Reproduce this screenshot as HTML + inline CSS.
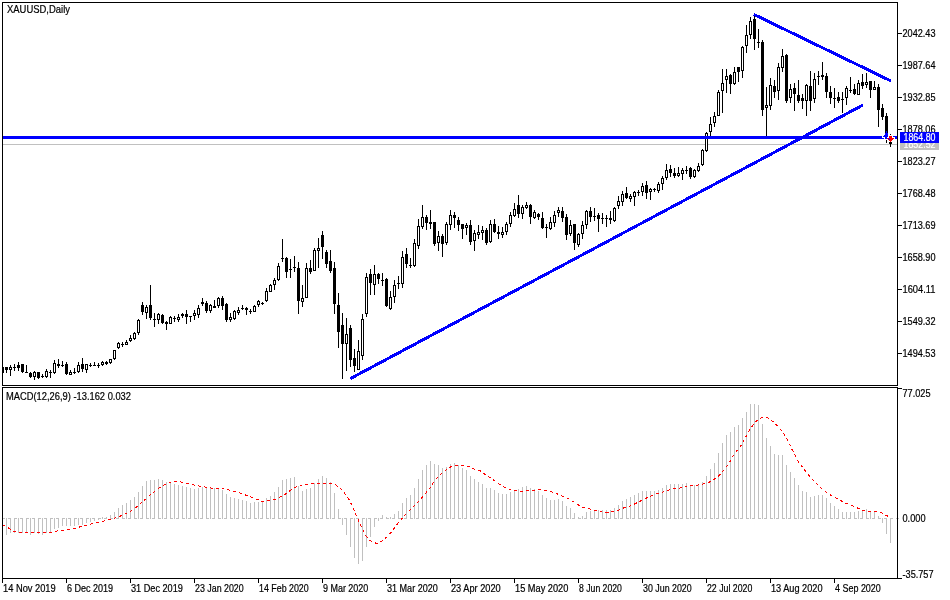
<!DOCTYPE html>
<html><head><meta charset="utf-8"><title>XAUUSD,Daily</title>
<style>html,body{margin:0;padding:0;background:#fff;overflow:hidden}svg{will-change:transform}svg{display:block}text{stroke:#000;stroke-width:0.2px;font-family:"Liberation Sans",Arial,sans-serif;font-size:10px;fill:#000}</style></head><body>
<svg width="950" height="600" viewBox="0 0 950 600">
<rect width="950" height="600" fill="#fff"/>
<g shape-rendering="crispEdges">
<rect x="3" y="144" width="894" height="1" fill="#c0c0c0"/>
<g fill="#c0c0c0">
<rect x="6" y="518" width="1" height="17"/>
<rect x="10" y="518" width="1" height="15"/>
<rect x="14" y="518" width="1" height="15"/>
<rect x="18" y="518" width="1" height="15"/>
<rect x="22" y="518" width="1" height="15"/>
<rect x="26" y="518" width="1" height="15"/>
<rect x="30" y="518" width="1" height="17"/>
<rect x="34" y="518" width="1" height="15"/>
<rect x="38" y="518" width="1" height="16"/>
<rect x="42" y="518" width="1" height="17"/>
<rect x="46" y="518" width="1" height="15"/>
<rect x="50" y="518" width="1" height="15"/>
<rect x="54" y="518" width="1" height="11"/>
<rect x="58" y="518" width="1" height="10"/>
<rect x="62" y="518" width="1" height="8"/>
<rect x="66" y="518" width="1" height="8"/>
<rect x="70" y="518" width="1" height="8"/>
<rect x="74" y="518" width="1" height="8"/>
<rect x="78" y="518" width="1" height="7"/>
<rect x="82" y="518" width="1" height="7"/>
<rect x="86" y="518" width="1" height="5"/>
<rect x="90" y="518" width="1" height="4"/>
<rect x="94" y="518" width="1" height="3"/>
<rect x="98" y="518" width="1" height="2"/>
<rect x="102" y="517" width="1" height="2"/>
<rect x="106" y="517" width="1" height="2"/>
<rect x="110" y="515" width="1" height="4"/>
<rect x="114" y="512" width="1" height="7"/>
<rect x="118" y="508" width="1" height="11"/>
<rect x="122" y="505" width="1" height="14"/>
<rect x="126" y="503" width="1" height="16"/>
<rect x="130" y="500" width="1" height="19"/>
<rect x="134" y="497" width="1" height="22"/>
<rect x="138" y="492" width="1" height="27"/>
<rect x="142" y="486" width="1" height="33"/>
<rect x="146" y="481" width="1" height="38"/>
<rect x="150" y="480" width="1" height="39"/>
<rect x="154" y="480" width="1" height="39"/>
<rect x="158" y="479" width="1" height="40"/>
<rect x="162" y="480" width="1" height="39"/>
<rect x="166" y="482" width="1" height="37"/>
<rect x="170" y="483" width="1" height="36"/>
<rect x="174" y="484" width="1" height="35"/>
<rect x="178" y="485" width="1" height="34"/>
<rect x="182" y="486" width="1" height="33"/>
<rect x="186" y="487" width="1" height="32"/>
<rect x="190" y="488" width="1" height="31"/>
<rect x="194" y="489" width="1" height="30"/>
<rect x="198" y="488" width="1" height="31"/>
<rect x="202" y="487" width="1" height="32"/>
<rect x="206" y="487" width="1" height="32"/>
<rect x="210" y="488" width="1" height="31"/>
<rect x="214" y="488" width="1" height="31"/>
<rect x="218" y="489" width="1" height="30"/>
<rect x="222" y="490" width="1" height="29"/>
<rect x="226" y="494" width="1" height="25"/>
<rect x="230" y="497" width="1" height="22"/>
<rect x="234" y="498" width="1" height="21"/>
<rect x="238" y="499" width="1" height="20"/>
<rect x="242" y="500" width="1" height="19"/>
<rect x="246" y="501" width="1" height="18"/>
<rect x="250" y="503" width="1" height="16"/>
<rect x="254" y="502" width="1" height="17"/>
<rect x="258" y="502" width="1" height="17"/>
<rect x="262" y="501" width="1" height="18"/>
<rect x="266" y="498" width="1" height="21"/>
<rect x="270" y="496" width="1" height="23"/>
<rect x="274" y="492" width="1" height="27"/>
<rect x="278" y="487" width="1" height="32"/>
<rect x="282" y="480" width="1" height="39"/>
<rect x="286" y="479" width="1" height="40"/>
<rect x="290" y="478" width="1" height="41"/>
<rect x="294" y="477" width="1" height="42"/>
<rect x="298" y="486" width="1" height="33"/>
<rect x="302" y="491" width="1" height="28"/>
<rect x="306" y="489" width="1" height="30"/>
<rect x="310" y="488" width="1" height="31"/>
<rect x="314" y="483" width="1" height="36"/>
<rect x="318" y="479" width="1" height="40"/>
<rect x="322" y="476" width="1" height="43"/>
<rect x="326" y="478" width="1" height="41"/>
<rect x="330" y="482" width="1" height="37"/>
<rect x="334" y="493" width="1" height="26"/>
<rect x="338" y="509" width="1" height="10"/>
<rect x="342" y="518" width="1" height="7"/>
<rect x="346" y="518" width="1" height="17"/>
<rect x="350" y="518" width="1" height="29"/>
<rect x="354" y="518" width="1" height="40"/>
<rect x="358" y="518" width="1" height="46"/>
<rect x="362" y="518" width="1" height="43"/>
<rect x="366" y="518" width="1" height="29"/>
<rect x="370" y="518" width="1" height="19"/>
<rect x="374" y="518" width="1" height="9"/>
<rect x="378" y="518" width="1" height="3"/>
<rect x="382" y="515" width="1" height="4"/>
<rect x="386" y="517" width="1" height="2"/>
<rect x="390" y="517" width="1" height="2"/>
<rect x="394" y="514" width="1" height="5"/>
<rect x="398" y="511" width="1" height="8"/>
<rect x="402" y="503" width="1" height="16"/>
<rect x="406" y="498" width="1" height="21"/>
<rect x="410" y="495" width="1" height="24"/>
<rect x="414" y="488" width="1" height="31"/>
<rect x="418" y="479" width="1" height="40"/>
<rect x="422" y="470" width="1" height="49"/>
<rect x="426" y="465" width="1" height="54"/>
<rect x="430" y="461" width="1" height="58"/>
<rect x="434" y="464" width="1" height="55"/>
<rect x="438" y="465" width="1" height="54"/>
<rect x="442" y="468" width="1" height="51"/>
<rect x="446" y="467" width="1" height="52"/>
<rect x="450" y="464" width="1" height="55"/>
<rect x="454" y="463" width="1" height="56"/>
<rect x="458" y="465" width="1" height="54"/>
<rect x="462" y="468" width="1" height="51"/>
<rect x="466" y="470" width="1" height="49"/>
<rect x="470" y="476" width="1" height="43"/>
<rect x="474" y="479" width="1" height="40"/>
<rect x="478" y="482" width="1" height="37"/>
<rect x="482" y="484" width="1" height="35"/>
<rect x="486" y="488" width="1" height="31"/>
<rect x="490" y="488" width="1" height="31"/>
<rect x="494" y="490" width="1" height="29"/>
<rect x="498" y="493" width="1" height="26"/>
<rect x="502" y="494" width="1" height="25"/>
<rect x="506" y="494" width="1" height="25"/>
<rect x="510" y="492" width="1" height="27"/>
<rect x="514" y="490" width="1" height="29"/>
<rect x="518" y="489" width="1" height="30"/>
<rect x="522" y="487" width="1" height="32"/>
<rect x="526" y="486" width="1" height="33"/>
<rect x="530" y="488" width="1" height="31"/>
<rect x="534" y="489" width="1" height="30"/>
<rect x="538" y="491" width="1" height="28"/>
<rect x="542" y="495" width="1" height="24"/>
<rect x="546" y="498" width="1" height="21"/>
<rect x="550" y="500" width="1" height="19"/>
<rect x="554" y="500" width="1" height="19"/>
<rect x="558" y="499" width="1" height="20"/>
<rect x="562" y="501" width="1" height="18"/>
<rect x="566" y="506" width="1" height="13"/>
<rect x="570" y="508" width="1" height="11"/>
<rect x="574" y="513" width="1" height="6"/>
<rect x="578" y="517" width="1" height="2"/>
<rect x="582" y="516" width="1" height="3"/>
<rect x="586" y="512" width="1" height="7"/>
<rect x="590" y="511" width="1" height="8"/>
<rect x="594" y="510" width="1" height="9"/>
<rect x="598" y="510" width="1" height="9"/>
<rect x="602" y="510" width="1" height="9"/>
<rect x="606" y="510" width="1" height="9"/>
<rect x="610" y="510" width="1" height="9"/>
<rect x="614" y="508" width="1" height="11"/>
<rect x="618" y="505" width="1" height="14"/>
<rect x="622" y="501" width="1" height="18"/>
<rect x="626" y="499" width="1" height="20"/>
<rect x="630" y="497" width="1" height="22"/>
<rect x="634" y="495" width="1" height="24"/>
<rect x="638" y="493" width="1" height="26"/>
<rect x="642" y="491" width="1" height="28"/>
<rect x="646" y="491" width="1" height="28"/>
<rect x="650" y="491" width="1" height="28"/>
<rect x="654" y="491" width="1" height="28"/>
<rect x="658" y="490" width="1" height="29"/>
<rect x="662" y="488" width="1" height="31"/>
<rect x="666" y="485" width="1" height="34"/>
<rect x="670" y="484" width="1" height="35"/>
<rect x="674" y="484" width="1" height="35"/>
<rect x="678" y="484" width="1" height="35"/>
<rect x="682" y="484" width="1" height="35"/>
<rect x="686" y="483" width="1" height="36"/>
<rect x="690" y="485" width="1" height="34"/>
<rect x="694" y="485" width="1" height="34"/>
<rect x="698" y="485" width="1" height="34"/>
<rect x="702" y="482" width="1" height="37"/>
<rect x="706" y="476" width="1" height="43"/>
<rect x="710" y="469" width="1" height="50"/>
<rect x="714" y="463" width="1" height="56"/>
<rect x="718" y="453" width="1" height="66"/>
<rect x="722" y="443" width="1" height="76"/>
<rect x="726" y="435" width="1" height="84"/>
<rect x="730" y="432" width="1" height="87"/>
<rect x="734" y="427" width="1" height="92"/>
<rect x="738" y="425" width="1" height="94"/>
<rect x="742" y="418" width="1" height="101"/>
<rect x="746" y="412" width="1" height="107"/>
<rect x="750" y="404" width="1" height="115"/>
<rect x="754" y="404" width="1" height="115"/>
<rect x="758" y="405" width="1" height="114"/>
<rect x="762" y="424" width="1" height="95"/>
<rect x="766" y="438" width="1" height="81"/>
<rect x="770" y="446" width="1" height="73"/>
<rect x="774" y="454" width="1" height="65"/>
<rect x="778" y="455" width="1" height="64"/>
<rect x="782" y="455" width="1" height="64"/>
<rect x="786" y="465" width="1" height="54"/>
<rect x="790" y="472" width="1" height="47"/>
<rect x="794" y="478" width="1" height="41"/>
<rect x="798" y="485" width="1" height="34"/>
<rect x="802" y="491" width="1" height="28"/>
<rect x="806" y="492" width="1" height="27"/>
<rect x="810" y="497" width="1" height="22"/>
<rect x="814" y="496" width="1" height="23"/>
<rect x="818" y="495" width="1" height="24"/>
<rect x="822" y="495" width="1" height="24"/>
<rect x="826" y="498" width="1" height="21"/>
<rect x="830" y="503" width="1" height="16"/>
<rect x="834" y="506" width="1" height="13"/>
<rect x="838" y="509" width="1" height="10"/>
<rect x="842" y="512" width="1" height="7"/>
<rect x="846" y="512" width="1" height="7"/>
<rect x="850" y="512" width="1" height="7"/>
<rect x="854" y="512" width="1" height="7"/>
<rect x="858" y="511" width="1" height="8"/>
<rect x="862" y="510" width="1" height="9"/>
<rect x="866" y="509" width="1" height="10"/>
<rect x="870" y="511" width="1" height="8"/>
<rect x="874" y="512" width="1" height="7"/>
<rect x="878" y="516" width="1" height="3"/>
<rect x="882" y="518" width="1" height="5"/>
<rect x="886" y="518" width="1" height="16"/>
<rect x="890" y="518" width="1" height="25"/>
<rect x="2" y="518" width="3" height="1"/>
<rect x="8" y="518" width="3" height="1"/>
<rect x="14" y="518" width="3" height="1"/>
<rect x="20" y="518" width="3" height="1"/>
<rect x="26" y="518" width="3" height="1"/>
<rect x="32" y="518" width="3" height="1"/>
<rect x="38" y="518" width="3" height="1"/>
<rect x="44" y="518" width="3" height="1"/>
<rect x="50" y="518" width="3" height="1"/>
<rect x="56" y="518" width="3" height="1"/>
<rect x="62" y="518" width="3" height="1"/>
<rect x="68" y="518" width="3" height="1"/>
<rect x="74" y="518" width="3" height="1"/>
<rect x="80" y="518" width="3" height="1"/>
<rect x="86" y="518" width="3" height="1"/>
<rect x="92" y="518" width="3" height="1"/>
<rect x="98" y="518" width="3" height="1"/>
<rect x="104" y="518" width="3" height="1"/>
<rect x="110" y="518" width="3" height="1"/>
<rect x="116" y="518" width="3" height="1"/>
<rect x="122" y="518" width="3" height="1"/>
<rect x="128" y="518" width="3" height="1"/>
<rect x="134" y="518" width="3" height="1"/>
<rect x="140" y="518" width="3" height="1"/>
<rect x="146" y="518" width="3" height="1"/>
<rect x="152" y="518" width="3" height="1"/>
<rect x="158" y="518" width="3" height="1"/>
<rect x="164" y="518" width="3" height="1"/>
<rect x="170" y="518" width="3" height="1"/>
<rect x="176" y="518" width="3" height="1"/>
<rect x="182" y="518" width="3" height="1"/>
<rect x="188" y="518" width="3" height="1"/>
<rect x="194" y="518" width="3" height="1"/>
<rect x="200" y="518" width="3" height="1"/>
<rect x="206" y="518" width="3" height="1"/>
<rect x="212" y="518" width="3" height="1"/>
<rect x="218" y="518" width="3" height="1"/>
<rect x="224" y="518" width="3" height="1"/>
<rect x="230" y="518" width="3" height="1"/>
<rect x="236" y="518" width="3" height="1"/>
<rect x="242" y="518" width="3" height="1"/>
<rect x="248" y="518" width="3" height="1"/>
<rect x="254" y="518" width="3" height="1"/>
<rect x="260" y="518" width="3" height="1"/>
<rect x="266" y="518" width="3" height="1"/>
<rect x="272" y="518" width="3" height="1"/>
<rect x="278" y="518" width="3" height="1"/>
<rect x="284" y="518" width="3" height="1"/>
<rect x="290" y="518" width="3" height="1"/>
<rect x="296" y="518" width="3" height="1"/>
<rect x="302" y="518" width="3" height="1"/>
<rect x="308" y="518" width="3" height="1"/>
<rect x="314" y="518" width="3" height="1"/>
<rect x="320" y="518" width="3" height="1"/>
<rect x="326" y="518" width="3" height="1"/>
<rect x="332" y="518" width="3" height="1"/>
<rect x="338" y="518" width="3" height="1"/>
<rect x="344" y="518" width="3" height="1"/>
<rect x="350" y="518" width="3" height="1"/>
<rect x="356" y="518" width="3" height="1"/>
<rect x="362" y="518" width="3" height="1"/>
<rect x="368" y="518" width="3" height="1"/>
<rect x="374" y="518" width="3" height="1"/>
<rect x="380" y="518" width="3" height="1"/>
<rect x="386" y="518" width="3" height="1"/>
<rect x="392" y="518" width="3" height="1"/>
<rect x="398" y="518" width="3" height="1"/>
<rect x="404" y="518" width="3" height="1"/>
<rect x="410" y="518" width="3" height="1"/>
<rect x="416" y="518" width="3" height="1"/>
<rect x="422" y="518" width="3" height="1"/>
<rect x="428" y="518" width="3" height="1"/>
<rect x="434" y="518" width="3" height="1"/>
<rect x="440" y="518" width="3" height="1"/>
<rect x="446" y="518" width="3" height="1"/>
<rect x="452" y="518" width="3" height="1"/>
<rect x="458" y="518" width="3" height="1"/>
<rect x="464" y="518" width="3" height="1"/>
<rect x="470" y="518" width="3" height="1"/>
<rect x="476" y="518" width="3" height="1"/>
<rect x="482" y="518" width="3" height="1"/>
<rect x="488" y="518" width="3" height="1"/>
<rect x="494" y="518" width="3" height="1"/>
<rect x="500" y="518" width="3" height="1"/>
<rect x="506" y="518" width="3" height="1"/>
<rect x="512" y="518" width="3" height="1"/>
<rect x="518" y="518" width="3" height="1"/>
<rect x="524" y="518" width="3" height="1"/>
<rect x="530" y="518" width="3" height="1"/>
<rect x="536" y="518" width="3" height="1"/>
<rect x="542" y="518" width="3" height="1"/>
<rect x="548" y="518" width="3" height="1"/>
<rect x="554" y="518" width="3" height="1"/>
<rect x="560" y="518" width="3" height="1"/>
<rect x="566" y="518" width="3" height="1"/>
<rect x="572" y="518" width="3" height="1"/>
<rect x="578" y="518" width="3" height="1"/>
<rect x="584" y="518" width="3" height="1"/>
<rect x="590" y="518" width="3" height="1"/>
<rect x="596" y="518" width="3" height="1"/>
<rect x="602" y="518" width="3" height="1"/>
<rect x="608" y="518" width="3" height="1"/>
<rect x="614" y="518" width="3" height="1"/>
<rect x="620" y="518" width="3" height="1"/>
<rect x="626" y="518" width="3" height="1"/>
<rect x="632" y="518" width="3" height="1"/>
<rect x="638" y="518" width="3" height="1"/>
<rect x="644" y="518" width="3" height="1"/>
<rect x="650" y="518" width="3" height="1"/>
<rect x="656" y="518" width="3" height="1"/>
<rect x="662" y="518" width="3" height="1"/>
<rect x="668" y="518" width="3" height="1"/>
<rect x="674" y="518" width="3" height="1"/>
<rect x="680" y="518" width="3" height="1"/>
<rect x="686" y="518" width="3" height="1"/>
<rect x="692" y="518" width="3" height="1"/>
<rect x="698" y="518" width="3" height="1"/>
<rect x="704" y="518" width="3" height="1"/>
<rect x="710" y="518" width="3" height="1"/>
<rect x="716" y="518" width="3" height="1"/>
<rect x="722" y="518" width="3" height="1"/>
<rect x="728" y="518" width="3" height="1"/>
<rect x="734" y="518" width="3" height="1"/>
<rect x="740" y="518" width="3" height="1"/>
<rect x="746" y="518" width="3" height="1"/>
<rect x="752" y="518" width="3" height="1"/>
<rect x="758" y="518" width="3" height="1"/>
<rect x="764" y="518" width="3" height="1"/>
<rect x="770" y="518" width="3" height="1"/>
<rect x="776" y="518" width="3" height="1"/>
<rect x="782" y="518" width="3" height="1"/>
<rect x="788" y="518" width="3" height="1"/>
<rect x="794" y="518" width="3" height="1"/>
<rect x="800" y="518" width="3" height="1"/>
<rect x="806" y="518" width="3" height="1"/>
<rect x="812" y="518" width="3" height="1"/>
<rect x="818" y="518" width="3" height="1"/>
<rect x="824" y="518" width="3" height="1"/>
<rect x="830" y="518" width="3" height="1"/>
<rect x="836" y="518" width="3" height="1"/>
<rect x="842" y="518" width="3" height="1"/>
<rect x="848" y="518" width="3" height="1"/>
<rect x="854" y="518" width="3" height="1"/>
<rect x="860" y="518" width="3" height="1"/>
<rect x="866" y="518" width="3" height="1"/>
<rect x="872" y="518" width="3" height="1"/>
<rect x="878" y="518" width="3" height="1"/>
<rect x="884" y="518" width="3" height="1"/>
<rect x="890" y="518" width="3" height="1"/>
<rect x="896" y="518" width="3" height="1"/>
</g>
<g fill="#000">
<rect x="3" y="367" width="1" height="6"/>
<rect x="6" y="367" width="1" height="6"/>
<rect x="5" y="367" width="3" height="3"/>
<rect x="10" y="365" width="1" height="11"/>
<rect x="9" y="367" width="3" height="3"/>
<rect x="10" y="368" width="1" height="1" fill="#fff"/>
<rect x="14" y="364" width="1" height="7"/>
<rect x="13" y="367" width="3" height="1"/>
<rect x="18" y="362" width="1" height="9"/>
<rect x="17" y="365" width="3" height="3"/>
<rect x="22" y="364" width="1" height="9"/>
<rect x="21" y="364" width="3" height="8"/>
<rect x="26" y="365" width="1" height="7"/>
<rect x="25" y="372" width="3" height="1"/>
<rect x="30" y="372" width="1" height="6"/>
<rect x="29" y="373" width="3" height="4"/>
<rect x="34" y="371" width="1" height="9"/>
<rect x="33" y="372" width="3" height="5"/>
<rect x="34" y="373" width="1" height="3" fill="#fff"/>
<rect x="38" y="372" width="1" height="7"/>
<rect x="37" y="372" width="3" height="6"/>
<rect x="42" y="374" width="1" height="4"/>
<rect x="41" y="376" width="3" height="1"/>
<rect x="46" y="369" width="1" height="9"/>
<rect x="45" y="371" width="3" height="6"/>
<rect x="46" y="372" width="1" height="4" fill="#fff"/>
<rect x="50" y="370" width="1" height="8"/>
<rect x="49" y="372" width="3" height="1"/>
<rect x="54" y="360" width="1" height="14"/>
<rect x="53" y="363" width="3" height="10"/>
<rect x="54" y="364" width="1" height="8" fill="#fff"/>
<rect x="58" y="359" width="1" height="9"/>
<rect x="57" y="364" width="3" height="2"/>
<rect x="62" y="361" width="1" height="6"/>
<rect x="61" y="365" width="3" height="1"/>
<rect x="66" y="362" width="1" height="13"/>
<rect x="65" y="364" width="3" height="10"/>
<rect x="70" y="370" width="1" height="4"/>
<rect x="69" y="372" width="3" height="3"/>
<rect x="70" y="373" width="1" height="1" fill="#fff"/>
<rect x="74" y="368" width="1" height="6"/>
<rect x="73" y="372" width="3" height="1"/>
<rect x="78" y="362" width="1" height="11"/>
<rect x="77" y="365" width="3" height="7"/>
<rect x="78" y="366" width="1" height="5" fill="#fff"/>
<rect x="82" y="358" width="1" height="14"/>
<rect x="81" y="364" width="3" height="5"/>
<rect x="86" y="364" width="1" height="9"/>
<rect x="85" y="364" width="3" height="6"/>
<rect x="86" y="365" width="1" height="4" fill="#fff"/>
<rect x="90" y="363" width="1" height="4"/>
<rect x="89" y="365" width="3" height="1"/>
<rect x="94" y="362" width="1" height="4"/>
<rect x="93" y="365" width="3" height="1"/>
<rect x="98" y="363" width="1" height="5"/>
<rect x="97" y="365" width="3" height="1"/>
<rect x="102" y="361" width="1" height="5"/>
<rect x="101" y="362" width="3" height="3"/>
<rect x="102" y="363" width="1" height="1" fill="#fff"/>
<rect x="106" y="361" width="1" height="4"/>
<rect x="105" y="362" width="3" height="2"/>
<rect x="110" y="359" width="1" height="5"/>
<rect x="109" y="359" width="3" height="4"/>
<rect x="110" y="360" width="1" height="2" fill="#fff"/>
<rect x="114" y="350" width="1" height="10"/>
<rect x="113" y="350" width="3" height="9"/>
<rect x="114" y="351" width="1" height="7" fill="#fff"/>
<rect x="118" y="342" width="1" height="7"/>
<rect x="117" y="343" width="3" height="5"/>
<rect x="118" y="344" width="1" height="3" fill="#fff"/>
<rect x="122" y="342" width="1" height="5"/>
<rect x="121" y="344" width="3" height="1"/>
<rect x="126" y="340" width="1" height="5"/>
<rect x="125" y="342" width="3" height="3"/>
<rect x="126" y="343" width="1" height="1" fill="#fff"/>
<rect x="130" y="335" width="1" height="7"/>
<rect x="129" y="338" width="3" height="3"/>
<rect x="130" y="339" width="1" height="1" fill="#fff"/>
<rect x="134" y="332" width="1" height="8"/>
<rect x="133" y="333" width="3" height="6"/>
<rect x="134" y="334" width="1" height="4" fill="#fff"/>
<rect x="138" y="319" width="1" height="16"/>
<rect x="137" y="320" width="3" height="13"/>
<rect x="138" y="321" width="1" height="11" fill="#fff"/>
<rect x="142" y="302" width="1" height="13"/>
<rect x="141" y="305" width="3" height="7"/>
<rect x="146" y="305" width="1" height="14"/>
<rect x="145" y="307" width="3" height="6"/>
<rect x="146" y="308" width="1" height="4" fill="#fff"/>
<rect x="150" y="285" width="1" height="35"/>
<rect x="149" y="305" width="3" height="13"/>
<rect x="154" y="313" width="1" height="14"/>
<rect x="153" y="319" width="3" height="1"/>
<rect x="158" y="313" width="1" height="11"/>
<rect x="157" y="314" width="3" height="6"/>
<rect x="158" y="315" width="1" height="4" fill="#fff"/>
<rect x="162" y="314" width="1" height="10"/>
<rect x="161" y="315" width="3" height="8"/>
<rect x="166" y="321" width="1" height="9"/>
<rect x="165" y="322" width="3" height="2"/>
<rect x="170" y="316" width="1" height="8"/>
<rect x="169" y="317" width="3" height="7"/>
<rect x="170" y="318" width="1" height="5" fill="#fff"/>
<rect x="174" y="316" width="1" height="6"/>
<rect x="173" y="318" width="3" height="1"/>
<rect x="178" y="314" width="1" height="8"/>
<rect x="177" y="317" width="3" height="3"/>
<rect x="178" y="318" width="1" height="1" fill="#fff"/>
<rect x="182" y="313" width="1" height="5"/>
<rect x="181" y="314" width="3" height="2"/>
<rect x="186" y="310" width="1" height="14"/>
<rect x="185" y="314" width="3" height="3"/>
<rect x="190" y="316" width="1" height="6"/>
<rect x="189" y="316" width="3" height="1"/>
<rect x="194" y="310" width="1" height="10"/>
<rect x="193" y="313" width="3" height="3"/>
<rect x="194" y="314" width="1" height="1" fill="#fff"/>
<rect x="198" y="305" width="1" height="13"/>
<rect x="197" y="308" width="3" height="7"/>
<rect x="198" y="309" width="1" height="5" fill="#fff"/>
<rect x="202" y="298" width="1" height="8"/>
<rect x="201" y="302" width="3" height="2"/>
<rect x="206" y="301" width="1" height="12"/>
<rect x="205" y="303" width="3" height="8"/>
<rect x="210" y="304" width="1" height="9"/>
<rect x="209" y="305" width="3" height="6"/>
<rect x="210" y="306" width="1" height="4" fill="#fff"/>
<rect x="214" y="300" width="1" height="8"/>
<rect x="213" y="306" width="3" height="2"/>
<rect x="218" y="297" width="1" height="11"/>
<rect x="217" y="298" width="3" height="8"/>
<rect x="218" y="299" width="1" height="6" fill="#fff"/>
<rect x="222" y="296" width="1" height="14"/>
<rect x="221" y="298" width="3" height="8"/>
<rect x="226" y="303" width="1" height="19"/>
<rect x="225" y="304" width="3" height="16"/>
<rect x="230" y="313" width="1" height="9"/>
<rect x="229" y="317" width="3" height="3"/>
<rect x="230" y="318" width="1" height="1" fill="#fff"/>
<rect x="234" y="310" width="1" height="10"/>
<rect x="233" y="311" width="3" height="8"/>
<rect x="234" y="312" width="1" height="6" fill="#fff"/>
<rect x="238" y="307" width="1" height="8"/>
<rect x="237" y="310" width="3" height="3"/>
<rect x="238" y="311" width="1" height="1" fill="#fff"/>
<rect x="242" y="305" width="1" height="5"/>
<rect x="241" y="308" width="3" height="1"/>
<rect x="246" y="307" width="1" height="8"/>
<rect x="245" y="308" width="3" height="2"/>
<rect x="250" y="309" width="1" height="5"/>
<rect x="249" y="311" width="3" height="1"/>
<rect x="254" y="305" width="1" height="7"/>
<rect x="253" y="306" width="3" height="6"/>
<rect x="254" y="307" width="1" height="4" fill="#fff"/>
<rect x="258" y="300" width="1" height="7"/>
<rect x="257" y="301" width="3" height="4"/>
<rect x="258" y="302" width="1" height="2" fill="#fff"/>
<rect x="262" y="302" width="1" height="3"/>
<rect x="261" y="303" width="3" height="1"/>
<rect x="266" y="288" width="1" height="14"/>
<rect x="265" y="291" width="3" height="10"/>
<rect x="266" y="292" width="1" height="8" fill="#fff"/>
<rect x="270" y="284" width="1" height="8"/>
<rect x="269" y="285" width="3" height="7"/>
<rect x="270" y="286" width="1" height="5" fill="#fff"/>
<rect x="274" y="278" width="1" height="12"/>
<rect x="273" y="280" width="3" height="5"/>
<rect x="274" y="281" width="1" height="3" fill="#fff"/>
<rect x="278" y="263" width="1" height="18"/>
<rect x="277" y="266" width="3" height="14"/>
<rect x="278" y="267" width="1" height="12" fill="#fff"/>
<rect x="282" y="239" width="1" height="23"/>
<rect x="281" y="258" width="3" height="1"/>
<rect x="286" y="257" width="1" height="21"/>
<rect x="285" y="258" width="3" height="14"/>
<rect x="290" y="259" width="1" height="19"/>
<rect x="289" y="269" width="3" height="1"/>
<rect x="294" y="256" width="1" height="16"/>
<rect x="293" y="267" width="3" height="1"/>
<rect x="298" y="262" width="1" height="52"/>
<rect x="297" y="268" width="3" height="33"/>
<rect x="302" y="285" width="1" height="22"/>
<rect x="301" y="298" width="3" height="4"/>
<rect x="302" y="299" width="1" height="2" fill="#fff"/>
<rect x="306" y="263" width="1" height="35"/>
<rect x="305" y="268" width="3" height="30"/>
<rect x="306" y="269" width="1" height="28" fill="#fff"/>
<rect x="310" y="260" width="1" height="14"/>
<rect x="309" y="268" width="3" height="4"/>
<rect x="314" y="248" width="1" height="23"/>
<rect x="313" y="250" width="3" height="21"/>
<rect x="314" y="251" width="1" height="19" fill="#fff"/>
<rect x="318" y="238" width="1" height="30"/>
<rect x="317" y="248" width="3" height="3"/>
<rect x="318" y="249" width="1" height="1" fill="#fff"/>
<rect x="322" y="231" width="1" height="28"/>
<rect x="321" y="235" width="3" height="12"/>
<rect x="326" y="250" width="1" height="18"/>
<rect x="325" y="252" width="3" height="12"/>
<rect x="330" y="250" width="1" height="23"/>
<rect x="329" y="261" width="3" height="10"/>
<rect x="334" y="262" width="1" height="52"/>
<rect x="333" y="268" width="3" height="36"/>
<rect x="338" y="293" width="1" height="55"/>
<rect x="337" y="305" width="3" height="27"/>
<rect x="342" y="313" width="1" height="66"/>
<rect x="341" y="325" width="3" height="19"/>
<rect x="346" y="318" width="1" height="53"/>
<rect x="345" y="334" width="3" height="10"/>
<rect x="346" y="335" width="1" height="8" fill="#fff"/>
<rect x="350" y="325" width="1" height="42"/>
<rect x="349" y="328" width="3" height="32"/>
<rect x="354" y="349" width="1" height="23"/>
<rect x="353" y="358" width="3" height="8"/>
<rect x="358" y="340" width="1" height="30"/>
<rect x="357" y="351" width="3" height="19"/>
<rect x="358" y="352" width="1" height="17" fill="#fff"/>
<rect x="362" y="314" width="1" height="46"/>
<rect x="361" y="319" width="3" height="37"/>
<rect x="362" y="320" width="1" height="35" fill="#fff"/>
<rect x="366" y="273" width="1" height="44"/>
<rect x="365" y="277" width="3" height="37"/>
<rect x="366" y="278" width="1" height="35" fill="#fff"/>
<rect x="370" y="269" width="1" height="26"/>
<rect x="369" y="274" width="3" height="9"/>
<rect x="374" y="265" width="1" height="30"/>
<rect x="373" y="274" width="3" height="11"/>
<rect x="374" y="275" width="1" height="9" fill="#fff"/>
<rect x="378" y="273" width="1" height="11"/>
<rect x="377" y="274" width="3" height="5"/>
<rect x="382" y="273" width="1" height="13"/>
<rect x="381" y="280" width="3" height="1"/>
<rect x="386" y="278" width="1" height="29"/>
<rect x="385" y="279" width="3" height="27"/>
<rect x="390" y="291" width="1" height="19"/>
<rect x="389" y="297" width="3" height="12"/>
<rect x="390" y="298" width="1" height="10" fill="#fff"/>
<rect x="394" y="280" width="1" height="23"/>
<rect x="393" y="285" width="3" height="12"/>
<rect x="394" y="286" width="1" height="10" fill="#fff"/>
<rect x="398" y="276" width="1" height="13"/>
<rect x="397" y="283" width="3" height="1"/>
<rect x="402" y="251" width="1" height="37"/>
<rect x="401" y="257" width="3" height="27"/>
<rect x="402" y="258" width="1" height="25" fill="#fff"/>
<rect x="406" y="248" width="1" height="20"/>
<rect x="405" y="254" width="3" height="10"/>
<rect x="410" y="258" width="1" height="10"/>
<rect x="409" y="265" width="3" height="1"/>
<rect x="414" y="239" width="1" height="28"/>
<rect x="413" y="243" width="3" height="23"/>
<rect x="414" y="244" width="1" height="21" fill="#fff"/>
<rect x="418" y="219" width="1" height="30"/>
<rect x="417" y="226" width="3" height="20"/>
<rect x="418" y="227" width="1" height="18" fill="#fff"/>
<rect x="422" y="205" width="1" height="24"/>
<rect x="421" y="217" width="3" height="10"/>
<rect x="422" y="218" width="1" height="8" fill="#fff"/>
<rect x="426" y="215" width="1" height="15"/>
<rect x="425" y="217" width="3" height="6"/>
<rect x="430" y="210" width="1" height="19"/>
<rect x="429" y="222" width="3" height="2"/>
<rect x="434" y="222" width="1" height="24"/>
<rect x="433" y="222" width="3" height="22"/>
<rect x="438" y="231" width="1" height="20"/>
<rect x="437" y="236" width="3" height="7"/>
<rect x="438" y="237" width="1" height="5" fill="#fff"/>
<rect x="442" y="234" width="1" height="23"/>
<rect x="441" y="236" width="3" height="8"/>
<rect x="446" y="222" width="1" height="23"/>
<rect x="445" y="224" width="3" height="19"/>
<rect x="446" y="225" width="1" height="17" fill="#fff"/>
<rect x="450" y="210" width="1" height="20"/>
<rect x="449" y="215" width="3" height="10"/>
<rect x="450" y="216" width="1" height="8" fill="#fff"/>
<rect x="454" y="212" width="1" height="16"/>
<rect x="453" y="215" width="3" height="3"/>
<rect x="458" y="217" width="1" height="14"/>
<rect x="457" y="220" width="3" height="5"/>
<rect x="462" y="224" width="1" height="15"/>
<rect x="461" y="224" width="3" height="5"/>
<rect x="466" y="223" width="1" height="12"/>
<rect x="465" y="225" width="3" height="3"/>
<rect x="466" y="226" width="1" height="1" fill="#fff"/>
<rect x="470" y="220" width="1" height="25"/>
<rect x="469" y="225" width="3" height="17"/>
<rect x="474" y="230" width="1" height="21"/>
<rect x="473" y="233" width="3" height="8"/>
<rect x="474" y="234" width="1" height="6" fill="#fff"/>
<rect x="478" y="225" width="1" height="14"/>
<rect x="477" y="232" width="3" height="3"/>
<rect x="478" y="233" width="1" height="1" fill="#fff"/>
<rect x="482" y="226" width="1" height="14"/>
<rect x="481" y="230" width="3" height="3"/>
<rect x="482" y="231" width="1" height="1" fill="#fff"/>
<rect x="486" y="228" width="1" height="17"/>
<rect x="485" y="230" width="3" height="13"/>
<rect x="490" y="220" width="1" height="23"/>
<rect x="489" y="224" width="3" height="18"/>
<rect x="490" y="225" width="1" height="16" fill="#fff"/>
<rect x="494" y="219" width="1" height="14"/>
<rect x="493" y="224" width="3" height="8"/>
<rect x="498" y="226" width="1" height="13"/>
<rect x="497" y="232" width="3" height="2"/>
<rect x="502" y="227" width="1" height="11"/>
<rect x="501" y="232" width="3" height="3"/>
<rect x="502" y="233" width="1" height="1" fill="#fff"/>
<rect x="506" y="222" width="1" height="13"/>
<rect x="505" y="224" width="3" height="8"/>
<rect x="506" y="225" width="1" height="6" fill="#fff"/>
<rect x="510" y="212" width="1" height="15"/>
<rect x="509" y="215" width="3" height="9"/>
<rect x="510" y="216" width="1" height="7" fill="#fff"/>
<rect x="514" y="203" width="1" height="14"/>
<rect x="513" y="209" width="3" height="7"/>
<rect x="514" y="210" width="1" height="5" fill="#fff"/>
<rect x="518" y="195" width="1" height="23"/>
<rect x="517" y="205" width="3" height="9"/>
<rect x="522" y="205" width="1" height="14"/>
<rect x="521" y="207" width="3" height="7"/>
<rect x="522" y="208" width="1" height="5" fill="#fff"/>
<rect x="526" y="202" width="1" height="7"/>
<rect x="525" y="205" width="3" height="3"/>
<rect x="526" y="206" width="1" height="1" fill="#fff"/>
<rect x="530" y="204" width="1" height="20"/>
<rect x="529" y="205" width="3" height="12"/>
<rect x="534" y="210" width="1" height="9"/>
<rect x="533" y="212" width="3" height="6"/>
<rect x="534" y="213" width="1" height="4" fill="#fff"/>
<rect x="538" y="213" width="1" height="7"/>
<rect x="537" y="214" width="3" height="3"/>
<rect x="542" y="212" width="1" height="17"/>
<rect x="541" y="218" width="3" height="10"/>
<rect x="546" y="224" width="1" height="14"/>
<rect x="545" y="227" width="3" height="1"/>
<rect x="550" y="217" width="1" height="13"/>
<rect x="549" y="222" width="3" height="7"/>
<rect x="550" y="223" width="1" height="5" fill="#fff"/>
<rect x="554" y="211" width="1" height="16"/>
<rect x="553" y="215" width="3" height="8"/>
<rect x="554" y="216" width="1" height="6" fill="#fff"/>
<rect x="558" y="207" width="1" height="10"/>
<rect x="557" y="210" width="3" height="3"/>
<rect x="558" y="211" width="1" height="1" fill="#fff"/>
<rect x="562" y="207" width="1" height="15"/>
<rect x="561" y="211" width="3" height="7"/>
<rect x="566" y="214" width="1" height="26"/>
<rect x="565" y="217" width="3" height="18"/>
<rect x="570" y="220" width="1" height="16"/>
<rect x="569" y="225" width="3" height="9"/>
<rect x="570" y="226" width="1" height="7" fill="#fff"/>
<rect x="574" y="224" width="1" height="26"/>
<rect x="573" y="224" width="3" height="19"/>
<rect x="578" y="233" width="1" height="14"/>
<rect x="577" y="234" width="3" height="11"/>
<rect x="578" y="235" width="1" height="9" fill="#fff"/>
<rect x="582" y="221" width="1" height="18"/>
<rect x="581" y="225" width="3" height="9"/>
<rect x="582" y="226" width="1" height="7" fill="#fff"/>
<rect x="586" y="210" width="1" height="19"/>
<rect x="585" y="211" width="3" height="14"/>
<rect x="586" y="212" width="1" height="12" fill="#fff"/>
<rect x="590" y="207" width="1" height="15"/>
<rect x="589" y="211" width="3" height="6"/>
<rect x="594" y="208" width="1" height="13"/>
<rect x="593" y="216" width="3" height="1"/>
<rect x="598" y="213" width="1" height="19"/>
<rect x="597" y="215" width="3" height="4"/>
<rect x="602" y="213" width="1" height="11"/>
<rect x="601" y="218" width="3" height="1"/>
<rect x="606" y="215" width="1" height="12"/>
<rect x="605" y="218" width="3" height="1"/>
<rect x="610" y="211" width="1" height="13"/>
<rect x="609" y="218" width="3" height="2"/>
<rect x="614" y="207" width="1" height="15"/>
<rect x="613" y="208" width="3" height="13"/>
<rect x="614" y="209" width="1" height="11" fill="#fff"/>
<rect x="618" y="196" width="1" height="13"/>
<rect x="617" y="201" width="3" height="5"/>
<rect x="618" y="202" width="1" height="3" fill="#fff"/>
<rect x="622" y="191" width="1" height="15"/>
<rect x="621" y="194" width="3" height="8"/>
<rect x="622" y="195" width="1" height="6" fill="#fff"/>
<rect x="626" y="187" width="1" height="12"/>
<rect x="625" y="193" width="3" height="5"/>
<rect x="630" y="194" width="1" height="8"/>
<rect x="629" y="196" width="3" height="3"/>
<rect x="630" y="197" width="1" height="1" fill="#fff"/>
<rect x="634" y="191" width="1" height="15"/>
<rect x="633" y="192" width="3" height="5"/>
<rect x="634" y="193" width="1" height="3" fill="#fff"/>
<rect x="638" y="190" width="1" height="6"/>
<rect x="637" y="192" width="3" height="1"/>
<rect x="642" y="183" width="1" height="13"/>
<rect x="641" y="186" width="3" height="6"/>
<rect x="642" y="187" width="1" height="4" fill="#fff"/>
<rect x="646" y="181" width="1" height="18"/>
<rect x="645" y="185" width="3" height="8"/>
<rect x="650" y="188" width="1" height="12"/>
<rect x="649" y="189" width="3" height="3"/>
<rect x="650" y="190" width="1" height="1" fill="#fff"/>
<rect x="654" y="188" width="1" height="4"/>
<rect x="653" y="189" width="3" height="1"/>
<rect x="658" y="182" width="1" height="11"/>
<rect x="657" y="184" width="3" height="7"/>
<rect x="658" y="185" width="1" height="5" fill="#fff"/>
<rect x="662" y="176" width="1" height="14"/>
<rect x="661" y="178" width="3" height="6"/>
<rect x="662" y="179" width="1" height="4" fill="#fff"/>
<rect x="666" y="164" width="1" height="16"/>
<rect x="665" y="170" width="3" height="8"/>
<rect x="666" y="171" width="1" height="6" fill="#fff"/>
<rect x="670" y="165" width="1" height="12"/>
<rect x="669" y="169" width="3" height="4"/>
<rect x="674" y="168" width="1" height="10"/>
<rect x="673" y="173" width="3" height="3"/>
<rect x="678" y="167" width="1" height="10"/>
<rect x="677" y="173" width="3" height="3"/>
<rect x="678" y="174" width="1" height="1" fill="#fff"/>
<rect x="682" y="168" width="1" height="12"/>
<rect x="681" y="170" width="3" height="4"/>
<rect x="682" y="171" width="1" height="2" fill="#fff"/>
<rect x="686" y="166" width="1" height="8"/>
<rect x="685" y="170" width="3" height="1"/>
<rect x="690" y="167" width="1" height="12"/>
<rect x="689" y="168" width="3" height="9"/>
<rect x="694" y="169" width="1" height="9"/>
<rect x="693" y="170" width="3" height="7"/>
<rect x="694" y="171" width="1" height="5" fill="#fff"/>
<rect x="698" y="163" width="1" height="9"/>
<rect x="697" y="166" width="3" height="5"/>
<rect x="698" y="167" width="1" height="3" fill="#fff"/>
<rect x="702" y="149" width="1" height="17"/>
<rect x="701" y="150" width="3" height="15"/>
<rect x="702" y="151" width="1" height="13" fill="#fff"/>
<rect x="706" y="132" width="1" height="20"/>
<rect x="705" y="133" width="3" height="18"/>
<rect x="706" y="134" width="1" height="16" fill="#fff"/>
<rect x="710" y="117" width="1" height="19"/>
<rect x="709" y="124" width="3" height="8"/>
<rect x="710" y="125" width="1" height="6" fill="#fff"/>
<rect x="714" y="112" width="1" height="15"/>
<rect x="713" y="116" width="3" height="7"/>
<rect x="714" y="117" width="1" height="5" fill="#fff"/>
<rect x="718" y="90" width="1" height="26"/>
<rect x="717" y="92" width="3" height="24"/>
<rect x="718" y="93" width="1" height="22" fill="#fff"/>
<rect x="722" y="69" width="1" height="44"/>
<rect x="721" y="83" width="3" height="8"/>
<rect x="722" y="84" width="1" height="6" fill="#fff"/>
<rect x="726" y="69" width="1" height="24"/>
<rect x="725" y="76" width="3" height="4"/>
<rect x="726" y="77" width="1" height="2" fill="#fff"/>
<rect x="730" y="74" width="1" height="20"/>
<rect x="729" y="75" width="3" height="9"/>
<rect x="734" y="67" width="1" height="18"/>
<rect x="733" y="72" width="3" height="12"/>
<rect x="734" y="73" width="1" height="10" fill="#fff"/>
<rect x="738" y="67" width="1" height="15"/>
<rect x="737" y="67" width="3" height="5"/>
<rect x="742" y="46" width="1" height="32"/>
<rect x="741" y="47" width="3" height="24"/>
<rect x="742" y="48" width="1" height="22" fill="#fff"/>
<rect x="746" y="25" width="1" height="28"/>
<rect x="745" y="35" width="3" height="11"/>
<rect x="746" y="36" width="1" height="9" fill="#fff"/>
<rect x="750" y="17" width="1" height="22"/>
<rect x="749" y="21" width="3" height="14"/>
<rect x="750" y="22" width="1" height="12" fill="#fff"/>
<rect x="754" y="16" width="1" height="34"/>
<rect x="753" y="19" width="3" height="20"/>
<rect x="758" y="29" width="1" height="19"/>
<rect x="757" y="42" width="3" height="1"/>
<rect x="762" y="40" width="1" height="76"/>
<rect x="761" y="42" width="3" height="68"/>
<rect x="766" y="87" width="1" height="49"/>
<rect x="765" y="105" width="3" height="3"/>
<rect x="766" y="106" width="1" height="1" fill="#fff"/>
<rect x="770" y="78" width="1" height="32"/>
<rect x="769" y="85" width="3" height="21"/>
<rect x="770" y="86" width="1" height="19" fill="#fff"/>
<rect x="774" y="80" width="1" height="18"/>
<rect x="773" y="86" width="3" height="6"/>
<rect x="778" y="63" width="1" height="37"/>
<rect x="777" y="67" width="3" height="24"/>
<rect x="778" y="68" width="1" height="22" fill="#fff"/>
<rect x="782" y="49" width="1" height="23"/>
<rect x="781" y="56" width="3" height="12"/>
<rect x="782" y="57" width="1" height="10" fill="#fff"/>
<rect x="786" y="54" width="1" height="49"/>
<rect x="785" y="55" width="3" height="46"/>
<rect x="790" y="84" width="1" height="19"/>
<rect x="789" y="89" width="3" height="9"/>
<rect x="790" y="90" width="1" height="7" fill="#fff"/>
<rect x="794" y="83" width="1" height="28"/>
<rect x="793" y="88" width="3" height="6"/>
<rect x="798" y="80" width="1" height="23"/>
<rect x="797" y="95" width="3" height="6"/>
<rect x="802" y="94" width="1" height="15"/>
<rect x="801" y="98" width="3" height="3"/>
<rect x="806" y="84" width="1" height="32"/>
<rect x="805" y="85" width="3" height="16"/>
<rect x="806" y="86" width="1" height="14" fill="#fff"/>
<rect x="810" y="71" width="1" height="40"/>
<rect x="809" y="86" width="3" height="15"/>
<rect x="814" y="73" width="1" height="30"/>
<rect x="813" y="79" width="3" height="20"/>
<rect x="814" y="80" width="1" height="18" fill="#fff"/>
<rect x="818" y="71" width="1" height="14"/>
<rect x="817" y="76" width="3" height="1"/>
<rect x="822" y="62" width="1" height="18"/>
<rect x="821" y="75" width="3" height="2"/>
<rect x="826" y="73" width="1" height="25"/>
<rect x="825" y="76" width="3" height="16"/>
<rect x="830" y="86" width="1" height="18"/>
<rect x="829" y="92" width="3" height="6"/>
<rect x="834" y="88" width="1" height="20"/>
<rect x="833" y="98" width="3" height="1"/>
<rect x="838" y="92" width="1" height="11"/>
<rect x="837" y="97" width="3" height="4"/>
<rect x="842" y="92" width="1" height="21"/>
<rect x="841" y="99" width="3" height="1"/>
<rect x="846" y="86" width="1" height="19"/>
<rect x="845" y="88" width="3" height="10"/>
<rect x="846" y="89" width="1" height="8" fill="#fff"/>
<rect x="850" y="77" width="1" height="16"/>
<rect x="849" y="90" width="3" height="1"/>
<rect x="854" y="84" width="1" height="11"/>
<rect x="853" y="89" width="3" height="5"/>
<rect x="858" y="80" width="1" height="15"/>
<rect x="857" y="83" width="3" height="12"/>
<rect x="858" y="84" width="1" height="10" fill="#fff"/>
<rect x="862" y="74" width="1" height="15"/>
<rect x="861" y="82" width="3" height="4"/>
<rect x="866" y="73" width="1" height="15"/>
<rect x="865" y="82" width="3" height="3"/>
<rect x="866" y="83" width="1" height="1" fill="#fff"/>
<rect x="870" y="81" width="1" height="17"/>
<rect x="869" y="81" width="3" height="9"/>
<rect x="874" y="81" width="1" height="9"/>
<rect x="873" y="87" width="3" height="3"/>
<rect x="874" y="88" width="1" height="1" fill="#fff"/>
<rect x="878" y="84" width="1" height="43"/>
<rect x="877" y="87" width="3" height="23"/>
<rect x="882" y="104" width="1" height="16"/>
<rect x="881" y="108" width="3" height="9"/>
<rect x="886" y="113" width="1" height="30"/>
<rect x="885" y="116" width="3" height="17"/>
<rect x="890" y="134" width="1" height="13"/>
<rect x="889" y="142" width="3" height="2"/>
</g>
</g>
<g stroke="#0000ff" stroke-width="3" shape-rendering="crispEdges" fill="none">
<line x1="3" y1="137.5" x2="897" y2="137.5"/>
<line x1="350.5" y1="378.5" x2="863" y2="105"/>
<line x1="754" y1="14.5" x2="891" y2="81"/>
</g>
<polyline points="3.0,524.8 10.0,528.9 14.0,531.3 20.0,532.4 50.0,532.4 55.0,531.3 63.0,530.3 69.0,529.5 75.0,528.3 81.0,526.6 87.0,525.0 93.0,523.4 99.0,522.2 106.0,520.4 111.0,519.0 117.7,517.4 123.6,514.5 129.5,512.0 135.4,507.8 141.3,503.0 147.2,497.7 153.6,492.1 159.8,487.4 165.7,484.2 171.6,482.3 177.5,481.5 183.7,482.3 189.6,484.2 195.5,485.4 201.4,486.4 207.8,487.4 213.7,488.4 219.6,488.4 225.5,489.2 231.4,490.4 237.8,492.4 243.5,494.3 249.6,496.5 255.5,498.9 261.9,501.2 267.4,500.7 273.8,499.8 279.3,497.6 285.7,493.9 291.8,489.3 297.7,486.2 304.0,484.4 309.6,483.8 316.0,483.5 322.4,483.3 327.9,483.3 333.8,483.8 339.8,487.5 344.9,493.5 349.0,499.4 351.7,504.9 354.8,512.2 358.1,519.6 360.0,523.8 362.7,529.6 365.8,535.5 370.0,540.6 376.5,543.4 382.0,541.2 388.4,535.5 393.3,529.6 397.5,523.8 403.0,517.4 407.6,512.0 414.3,506.0 420.2,499.7 425.3,493.8 430.0,487.9 433.7,482.0 438.7,476.2 444.1,471.6 450.5,466.9 456.4,465.5 462.3,465.5 468.2,466.4 474.6,469.4 480.8,471.1 486.7,475.8 492.6,479.2 498.5,483.7 504.4,487.4 510.3,489.5 516.2,490.5 522.1,491.3 528.0,490.8 533.9,490.1 539.8,489.6 546.5,490.5 552.4,492.2 558.4,494.3 564.3,496.9 570.2,499.7 576.1,503.4 582.3,507.3 588.4,508.7 594.6,510.3 600.5,511.9 606.4,512.4 612.3,511.9 618.2,510.2 624.1,507.8 630.3,506.0 636.4,503.1 642.3,500.1 648.2,497.2 654.4,494.3 660.3,492.7 666.2,491.0 672.6,488.5 678.3,488.5 684.7,486.3 690.6,485.4 696.5,485.4 702.4,484.2 708.2,482.8 714.0,479.5 720.0,474.7 725.0,468.7 729.3,462.8 733.0,456.3 736.8,450.9 741.2,445.3 745.0,438.3 748.8,431.4 752.7,425.3 757.4,419.9 762.8,417.3 768.9,418.2 774.8,423.2 780.2,429.2 785.0,435.5 788.4,441.6 791.0,447.7 794.3,453.5 797.5,460.2 801.3,465.7 805.8,471.7 811.0,477.7 816.3,483.3 821.5,488.5 827.5,493.3 833.2,496.5 839.5,499.8 845.5,503.2 851.5,505.3 857.5,508.0 863.2,510.5 869.5,511.3 875.5,511.5 881.5,512.8 887.5,516.0 889.0,516.7" fill="none" stroke="#ff0000" stroke-width="1" stroke-dasharray="3 3" shape-rendering="crispEdges"/>
<g shape-rendering="crispEdges">
<rect x="884" y="133" width="5" height="1" fill="#fff"/>
<rect x="884" y="134" width="5" height="1" fill="#fff"/>
<rect x="883" y="135" width="6" height="1" fill="#fff"/>
<rect x="882" y="136" width="7" height="1" fill="#fff"/>
<rect x="882" y="137" width="7" height="1" fill="#fff"/>
<rect x="884" y="138" width="5" height="1" fill="#fff"/>
<rect x="884" y="139" width="4" height="1" fill="#fff"/>
<rect x="888" y="135" width="5" height="1" fill="#fff"/>
<rect x="888" y="136" width="5" height="1" fill="#fff"/>
<rect x="886" y="137" width="9" height="1" fill="#fff"/>
<rect x="886" y="138" width="9" height="1" fill="#fff"/>
<rect x="887" y="139" width="8" height="1" fill="#fff"/>
<rect x="888" y="140" width="5" height="1" fill="#fff"/>
<rect x="889" y="141" width="3" height="1" fill="#fff"/>
<rect x="890" y="142" width="1" height="1" fill="#fff"/>
<rect x="886" y="131" width="1" height="1" fill="#0000ff"/>
<rect x="886" y="132" width="1" height="1" fill="#0000ff"/>
<rect x="885" y="133" width="3" height="1" fill="#0000ff"/>
<rect x="885" y="134" width="3" height="1" fill="#0000ff"/>
<rect x="884" y="135" width="4" height="1" fill="#0000ff"/>
<rect x="883" y="136" width="5" height="1" fill="#0000ff"/>
<rect x="885" y="137" width="2" height="1" fill="#0000ff"/>
<rect x="885" y="138" width="2" height="1" fill="#0000ff"/>
<rect x="889" y="136" width="3" height="1" fill="#ff0000"/>
<rect x="889" y="137" width="3" height="1" fill="#ff0000"/>
<rect x="887" y="138" width="7" height="1" fill="#ff0000"/>
<rect x="888" y="139" width="5" height="1" fill="#ff0000"/>
<rect x="889" y="140" width="3" height="1" fill="#ff0000"/>
<rect x="890" y="141" width="1" height="1" fill="#ff0000"/>
<rect x="888" y="138" width="1" height="1" fill="#0000ff"/>
<rect x="889" y="139" width="1" height="1" fill="#0000ff"/>
<rect x="890" y="134" width="1" height="1" fill="#000"/>
<rect x="889" y="142" width="3" height="1" fill="#000"/>
<rect x="889" y="143" width="3" height="1" fill="#000"/>
<rect x="890" y="144" width="1" height="1" fill="#000"/>
<rect x="890" y="145" width="1" height="1" fill="#000"/>
<rect x="890" y="146" width="1" height="1" fill="#000"/>
<rect x="886" y="140" width="1" height="1" fill="#000"/>
<rect x="886" y="141" width="1" height="1" fill="#000"/>
<rect x="886" y="142" width="1" height="1" fill="#000"/>
</g>
<g shape-rendering="crispEdges" fill="#000">
<rect x="2" y="2" width="896" height="1" fill="#000"/>
<rect x="2" y="2" width="1" height="384" fill="#000"/>
<rect x="897" y="2" width="1" height="384" fill="#000"/>
<rect x="2" y="385" width="896" height="1" fill="#000"/>
<rect x="2" y="387" width="896" height="1" fill="#000"/>
<rect x="2" y="387" width="1" height="192" fill="#000"/>
<rect x="897" y="387" width="1" height="192" fill="#000"/>
<rect x="2" y="578" width="900" height="1" fill="#000"/>
<rect x="898" y="33" width="4" height="1" fill="#000"/>
<rect x="898" y="65" width="4" height="1" fill="#000"/>
<rect x="898" y="97" width="4" height="1" fill="#000"/>
<rect x="898" y="129" width="4" height="1" fill="#000"/>
<rect x="898" y="161" width="4" height="1" fill="#000"/>
<rect x="898" y="193" width="4" height="1" fill="#000"/>
<rect x="898" y="225" width="4" height="1" fill="#000"/>
<rect x="898" y="257" width="4" height="1" fill="#000"/>
<rect x="898" y="289" width="4" height="1" fill="#000"/>
<rect x="898" y="321" width="4" height="1" fill="#000"/>
<rect x="898" y="353" width="4" height="1" fill="#000"/>
<rect x="898" y="388" width="4" height="1" fill="#000"/>
<rect x="2" y="579" width="1" height="4" fill="#000"/>
<rect x="66" y="579" width="1" height="4" fill="#000"/>
<rect x="130" y="579" width="1" height="4" fill="#000"/>
<rect x="194" y="579" width="1" height="4" fill="#000"/>
<rect x="258" y="579" width="1" height="4" fill="#000"/>
<rect x="322" y="579" width="1" height="4" fill="#000"/>
<rect x="386" y="579" width="1" height="4" fill="#000"/>
<rect x="450" y="579" width="1" height="4" fill="#000"/>
<rect x="514" y="579" width="1" height="4" fill="#000"/>
<rect x="578" y="579" width="1" height="4" fill="#000"/>
<rect x="642" y="579" width="1" height="4" fill="#000"/>
<rect x="706" y="579" width="1" height="4" fill="#000"/>
<rect x="770" y="579" width="1" height="4" fill="#000"/>
<rect x="834" y="579" width="1" height="4" fill="#000"/>
</g>
<g shape-rendering="crispEdges">
<rect x="900" y="139" width="39" height="11" fill="#c0c0c0"/>
</g>
<text x="903.5" y="148" textLength="32" lengthAdjust="spacingAndGlyphs" style="fill:#fff;stroke:#fff">1852.52</text>
<rect x="900" y="132" width="39" height="11" fill="#0000ff" shape-rendering="crispEdges"/>
<text x="902.5" y="37" textLength="33" lengthAdjust="spacingAndGlyphs">2042.43</text>
<text x="902.5" y="69" textLength="33" lengthAdjust="spacingAndGlyphs">1987.64</text>
<text x="902.5" y="101" textLength="33" lengthAdjust="spacingAndGlyphs">1932.85</text>
<text x="902.5" y="133" textLength="33" lengthAdjust="spacingAndGlyphs">1878.06</text>
<text x="902.5" y="165" textLength="33" lengthAdjust="spacingAndGlyphs">1823.27</text>
<text x="902.5" y="197" textLength="33" lengthAdjust="spacingAndGlyphs">1768.48</text>
<text x="902.5" y="229" textLength="33" lengthAdjust="spacingAndGlyphs">1713.69</text>
<text x="902.5" y="261" textLength="33" lengthAdjust="spacingAndGlyphs">1658.90</text>
<text x="902.5" y="293" textLength="33" lengthAdjust="spacingAndGlyphs">1604.11</text>
<text x="902.5" y="325" textLength="33" lengthAdjust="spacingAndGlyphs">1549.32</text>
<text x="902.5" y="357" textLength="33" lengthAdjust="spacingAndGlyphs">1494.53</text>
<rect x="900" y="132" width="39" height="11" fill="#0000ff" shape-rendering="crispEdges"/>
<text x="903.5" y="141" textLength="32" lengthAdjust="spacingAndGlyphs" style="fill:#fff;stroke:#fff">1864.80</text>
<text x="902.5" y="397" textLength="28" lengthAdjust="spacingAndGlyphs">77.025</text>
<text x="902.5" y="522" textLength="23" lengthAdjust="spacingAndGlyphs">0.000</text>
<text x="902.5" y="578" textLength="31" lengthAdjust="spacingAndGlyphs">-35.757</text>
<text x="7" y="13" textLength="63" lengthAdjust="spacingAndGlyphs">XAUUSD,Daily</text>
<text x="6" y="400" textLength="125" lengthAdjust="spacingAndGlyphs">MACD(12,26,9) -13.162 0.032</text>
<text x="3" y="592" textLength="52.7" lengthAdjust="spacingAndGlyphs">14 Nov 2019</text>
<text x="67" y="592" textLength="46.1" lengthAdjust="spacingAndGlyphs">6 Dec 2019</text>
<text x="131" y="592" textLength="51.9" lengthAdjust="spacingAndGlyphs">31 Dec 2019</text>
<text x="195" y="592" textLength="48.7" lengthAdjust="spacingAndGlyphs">23 Jan 2020</text>
<text x="259" y="592" textLength="49.7" lengthAdjust="spacingAndGlyphs">14 Feb 2020</text>
<text x="323" y="592" textLength="45.3" lengthAdjust="spacingAndGlyphs">9 Mar 2020</text>
<text x="387" y="592" textLength="50.8" lengthAdjust="spacingAndGlyphs">31 Mar 2020</text>
<text x="451" y="592" textLength="49.7" lengthAdjust="spacingAndGlyphs">23 Apr 2020</text>
<text x="515" y="592" textLength="53.4" lengthAdjust="spacingAndGlyphs">15 May 2020</text>
<text x="579" y="592" textLength="42.9" lengthAdjust="spacingAndGlyphs">8 Jun 2020</text>
<text x="643" y="592" textLength="48.7" lengthAdjust="spacingAndGlyphs">30 Jun 2020</text>
<text x="707" y="592" textLength="45.3" lengthAdjust="spacingAndGlyphs">22 Jul 2020</text>
<text x="771" y="592" textLength="51.5" lengthAdjust="spacingAndGlyphs">13 Aug 2020</text>
<text x="835" y="592" textLength="45.8" lengthAdjust="spacingAndGlyphs">4 Sep 2020</text>
</svg></body></html>
